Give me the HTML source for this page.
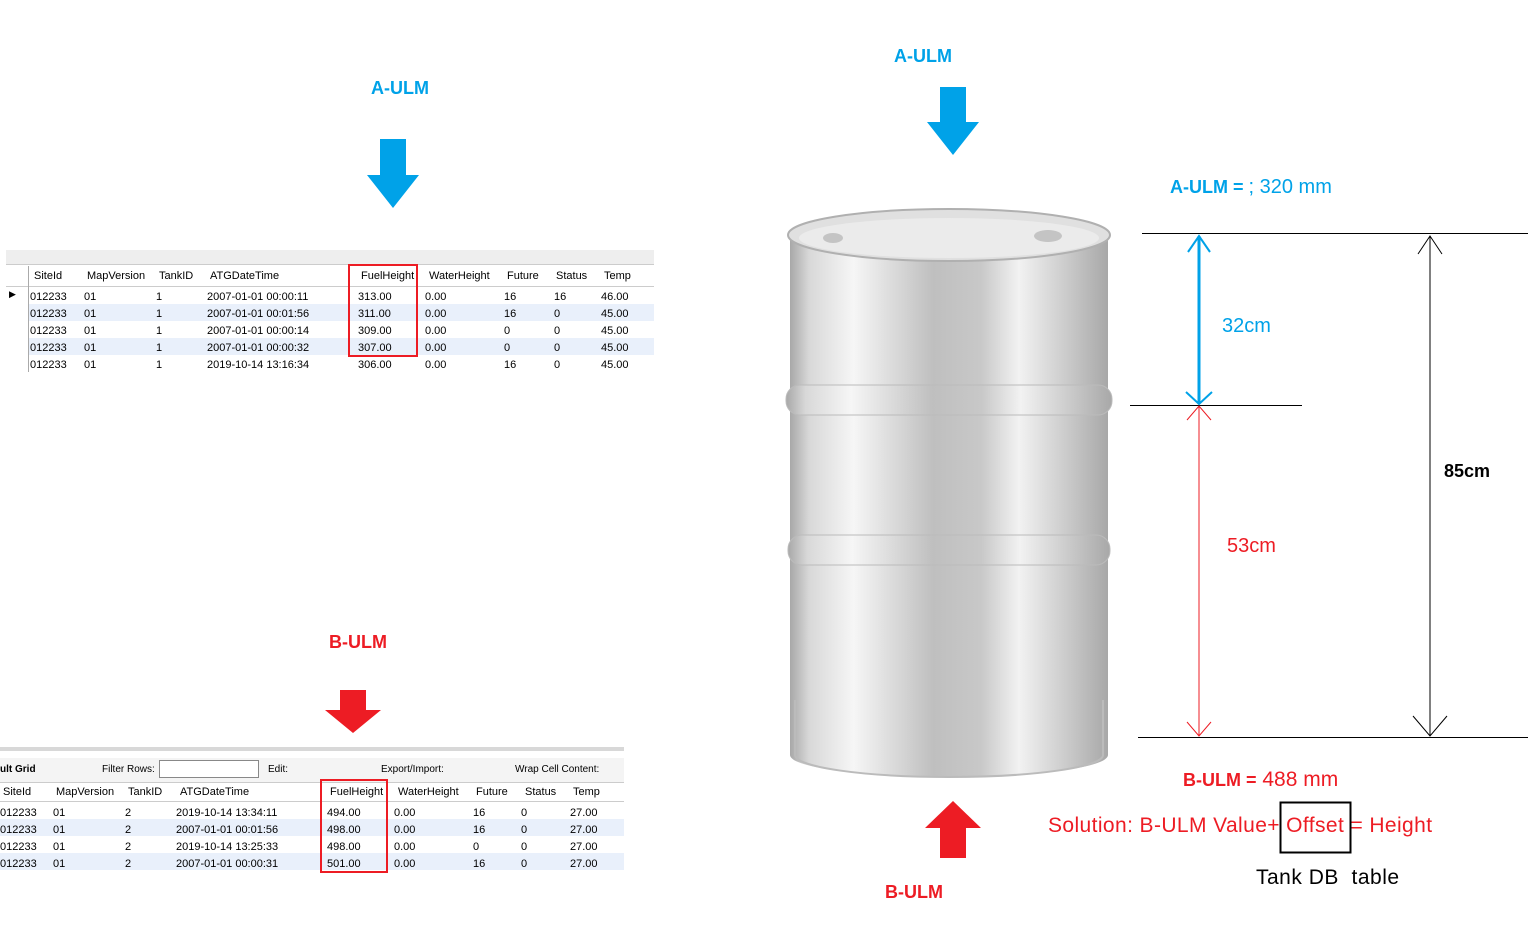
<!DOCTYPE html>
<html><head><style>
body{margin:0;width:1528px;height:928px;position:relative;background:#fff;font-family:"Liberation Sans",sans-serif;overflow:hidden}
.a{position:absolute;white-space:nowrap}
.t{font-size:11px;color:#000}
.lbl{font-weight:bold;font-size:18px}
.b{color:#00a2e8}.r{color:#ed1c24}
</style></head><body>

<div class="a lbl b" style="left:371px;top:78px">A-ULM</div>
<div class="a lbl b" style="left:894px;top:46px">A-ULM</div>
<div class="a lbl r" style="left:329px;top:632px">B-ULM</div>
<div class="a lbl r" style="left:885px;top:882px">B-ULM</div>

<svg class="a" style="left:0;top:0" width="1528" height="928">
<defs>
<linearGradient id="g" x1="0" x2="1">
<stop offset="0" stop-color="#a8a8a8"/><stop offset="0.06" stop-color="#d8d8d8"/>
<stop offset="0.2" stop-color="#f6f6f6"/><stop offset="0.3" stop-color="#e0e0e0"/>
<stop offset="0.45" stop-color="#bfbfbf"/><stop offset="0.6" stop-color="#c8c8c8"/>
<stop offset="0.72" stop-color="#f2f2f2"/><stop offset="0.85" stop-color="#d0d0d0"/>
<stop offset="1" stop-color="#a8a8a8"/></linearGradient>
</defs>
<polygon fill="#00a2e8" points="380,139 406,139 406,175 419,175 393,208 367,175 380,175"/>
<polygon fill="#00a2e8" points="940,87 966,87 966,122 979,122 953,155 927,122 940,122"/>
<polygon fill="#ed1c24" points="340,690 366,690 366,710 381,710 353,733 325,710 340,710"/>
<polygon fill="#ed1c24" points="940,858 966,858 966,828 981,828 953,801 925,828 940,828"/>
<path d="M790,235 L790,755 A158,22 0 0 0 1108,755 L1108,235 Z" fill="url(#g)"/>
<rect x="786" y="385" width="326" height="30" rx="14" fill="url(#g)" stroke="#bbb"/>
<rect x="788" y="535" width="322" height="30" rx="14" fill="url(#g)" stroke="#bbb"/>
<path d="M795,700 L795,755 A154,22 0 0 0 1103,755 L1103,700" fill="none" stroke="#bbb" stroke-width="2"/>
<ellipse cx="949" cy="235" rx="161" ry="26" fill="#e0e0e0" stroke="#b0b0b0" stroke-width="2"/>
<ellipse cx="949" cy="238" rx="150" ry="20" fill="#ebebeb"/>
<ellipse cx="833" cy="238" rx="10" ry="5" fill="#c4c4c4"/>
<ellipse cx="1048" cy="236" rx="14" ry="6" fill="#c4c4c4"/>
<line x1="1142" y1="233.5" x2="1528" y2="233.5" stroke="#000"/>
<line x1="1138" y1="737.5" x2="1528" y2="737.5" stroke="#000"/>
<line x1="1130" y1="405.5" x2="1302" y2="405.5" stroke="#000"/>
<line x1="1199" y1="236" x2="1199" y2="404" stroke="#00a2e8" stroke-width="3"/>
<polyline points="1188,252 1199,236 1210,252" fill="none" stroke="#00a2e8" stroke-width="2"/>
<polyline points="1186,392 1199,404 1212,392" fill="none" stroke="#00a2e8" stroke-width="2"/>
<line x1="1199" y1="406" x2="1199" y2="736" stroke="#ed1c24"/>
<polyline points="1187,420 1199,406 1211,420" fill="none" stroke="#ed1c24"/>
<polyline points="1187,722 1199,736 1211,722" fill="none" stroke="#ed1c24"/>
<line x1="1430" y1="236" x2="1430" y2="736" stroke="#000"/>
<polyline points="1418,254 1430,236 1442,254" fill="none" stroke="#000"/>
<polyline points="1413,716 1430,736 1447,716" fill="none" stroke="#000"/>
<rect x="1280.5" y="802.5" width="70" height="50" fill="none" stroke="#000" stroke-width="2"/>
</svg>

<div class="a" style="left:1170px;top:176px;font-size:18px;color:#00a2e8"><b>A-ULM =</b> <span style="font-size:20px">; 320 mm</span></div>
<div class="a b" style="left:1222px;top:315px;font-size:20px">32cm</div>
<div class="a r" style="left:1227px;top:535px;font-size:20px">53cm</div>
<div class="a" style="left:1444px;top:461px;font-size:18px;font-weight:bold">85cm</div>
<div class="a r" style="left:1183px;top:768px;font-size:21px"><b style="font-size:18px">B-ULM =</b> 488 mm</div>
<div class="a r" style="left:1048px;top:814px;font-size:21px;letter-spacing:0.4px">Solution: B-ULM Value+ Offset = Height</div>
<div class="a" style="left:1256px;top:866px;font-size:21px;letter-spacing:0.5px">Tank DB&nbsp; table</div>

<div class="a" style="left:6px;top:250px;width:648px;height:14px;background:#eee;border-bottom:1px solid #ccc"></div>
<div class="a" style="left:6px;top:266px;width:648px;height:20px;border-bottom:1px solid #ccc"></div>
<div class="a" style="left:28px;top:304px;width:626px;height:17px;background:#e9f0fb"></div>
<div class="a" style="left:28px;top:338px;width:626px;height:17px;background:#e9f0fb"></div>
<div class="a" style="left:28px;top:266px;width:1px;height:106px;background:#aaa"></div>
<div class="a t" style="left:9px;top:289px;font-size:9px">▶</div>
<div class="a t" style="left:34px;top:270px">SiteId</div><div class="a t" style="left:87px;top:270px">MapVersion</div><div class="a t" style="left:159px;top:270px">TankID</div><div class="a t" style="left:210px;top:270px">ATGDateTime</div><div class="a t" style="left:361px;top:270px">FuelHeight</div><div class="a t" style="left:429px;top:270px">WaterHeight</div><div class="a t" style="left:507px;top:270px">Future</div><div class="a t" style="left:556px;top:270px">Status</div><div class="a t" style="left:604px;top:270px">Temp</div>
<div class="a t" style="left:30px;top:289px;line-height:17px">012233<br>012233<br>012233<br>012233<br>012233</div>
<div class="a t" style="left:84px;top:289px;line-height:17px">01<br>01<br>01<br>01<br>01</div>
<div class="a t" style="left:156px;top:289px;line-height:17px">1<br>1<br>1<br>1<br>1</div>
<div class="a t" style="left:207px;top:289px;line-height:17px">2007-01-01 00:00:11<br>2007-01-01 00:01:56<br>2007-01-01 00:00:14<br>2007-01-01 00:00:32<br>2019-10-14 13:16:34</div>
<div class="a t" style="left:358px;top:289px;line-height:17px">313.00<br>311.00<br>309.00<br>307.00<br>306.00</div>
<div class="a t" style="left:425px;top:289px;line-height:17px">0.00<br>0.00<br>0.00<br>0.00<br>0.00</div>
<div class="a t" style="left:504px;top:289px;line-height:17px">16<br>16<br>0<br>0<br>16</div>
<div class="a t" style="left:554px;top:289px;line-height:17px">16<br>0<br>0<br>0<br>0</div>
<div class="a t" style="left:601px;top:289px;line-height:17px">46.00<br>45.00<br>45.00<br>45.00<br>45.00</div>
<div class="a" style="left:348px;top:264px;width:66px;height:89px;border:2px solid #ed1c24"></div>

<div class="a" style="left:0;top:747px;width:624px;height:4px;background:#d8d8d8"></div>
<div class="a" style="left:0;top:758px;width:624px;height:24px;background:#f4f4f4;border-bottom:1px solid #ccc"></div>
<div class="a t" style="left:0;top:764px;font-size:10px"><b>ult Grid</b></div>
<div class="a t" style="left:102px;top:764px;font-size:10px">Filter Rows:</div>
<div class="a" style="left:159px;top:760px;width:98px;height:16px;border:1px solid #888;background:#fff"></div>
<div class="a t" style="left:268px;top:764px;font-size:10px">Edit:</div>
<div class="a t" style="left:381px;top:764px;font-size:10px">Export/Import:</div>
<div class="a t" style="left:515px;top:764px;font-size:10px">Wrap Cell Content:</div>
<div class="a" style="left:0;top:801px;width:624px;height:1px;background:#ccc"></div>
<div class="a" style="left:0;top:819px;width:624px;height:17px;background:#e9f0fb"></div>
<div class="a" style="left:0;top:853px;width:624px;height:17px;background:#e9f0fb"></div>
<div class="a t" style="left:3px;top:786px">SiteId</div><div class="a t" style="left:56px;top:786px">MapVersion</div><div class="a t" style="left:128px;top:786px">TankID</div><div class="a t" style="left:180px;top:786px">ATGDateTime</div><div class="a t" style="left:330px;top:786px">FuelHeight</div><div class="a t" style="left:398px;top:786px">WaterHeight</div><div class="a t" style="left:476px;top:786px">Future</div><div class="a t" style="left:525px;top:786px">Status</div><div class="a t" style="left:573px;top:786px">Temp</div>
<div class="a t" style="left:0px;top:805px;line-height:17px">012233<br>012233<br>012233<br>012233</div>
<div class="a t" style="left:53px;top:805px;line-height:17px">01<br>01<br>01<br>01</div>
<div class="a t" style="left:125px;top:805px;line-height:17px">2<br>2<br>2<br>2</div>
<div class="a t" style="left:176px;top:805px;line-height:17px">2019-10-14 13:34:11<br>2007-01-01 00:01:56<br>2019-10-14 13:25:33<br>2007-01-01 00:00:31</div>
<div class="a t" style="left:327px;top:805px;line-height:17px">494.00<br>498.00<br>498.00<br>501.00</div>
<div class="a t" style="left:394px;top:805px;line-height:17px">0.00<br>0.00<br>0.00<br>0.00</div>
<div class="a t" style="left:473px;top:805px;line-height:17px">16<br>16<br>0<br>16</div>
<div class="a t" style="left:521px;top:805px;line-height:17px">0<br>0<br>0<br>0</div>
<div class="a t" style="left:570px;top:805px;line-height:17px">27.00<br>27.00<br>27.00<br>27.00</div>
<div class="a" style="left:320px;top:779px;width:64px;height:90px;border:2px solid #ed1c24"></div>
</body></html>
